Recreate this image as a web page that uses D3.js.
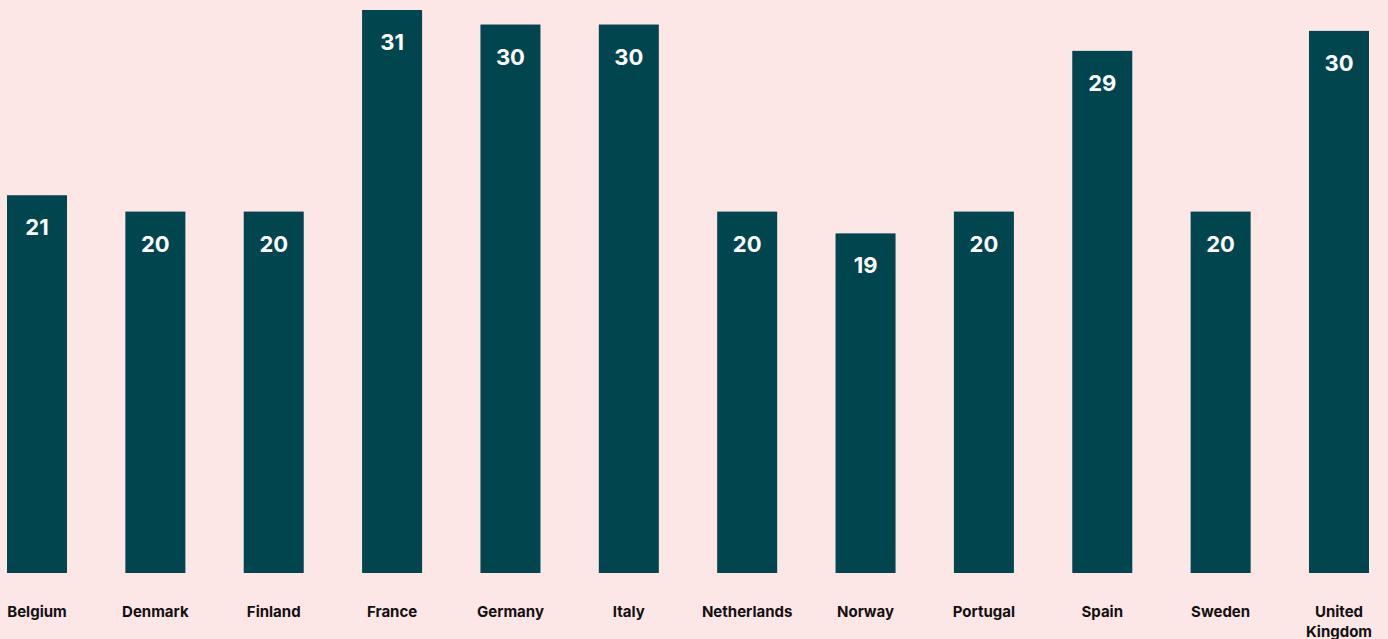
<!DOCTYPE html>
<html>
<head>
<meta charset="utf-8">
<script src="https://cdn.jsdelivr.net/npm/d3@7"></script>
<style>
  html, body { margin: 0; padding: 0; background: #fde6e6; }
  svg { display: block; }
</style>
</head>
<body>
<div id="graph"></div>
<script>
    var w = 1388;
    var h = 639;
    var baseY = 573;

    // values (labels show them rounded)
    var countries = ["Belgium", "Denmark", "Finland", "France", "Germany", "Italy",
                     "Netherlands", "Norway", "Portugal", "Spain", "Sweden", "United Kingdom"];
    var values = [20.8, 19.9, 19.9, 31.0, 30.2, 30.2, 19.9, 18.7, 19.9, 28.75, 19.9, 29.85];

    var barColor = "#01454f";

    var svg = d3.select("#graph").append("svg")
        .attr("width", w)
        .attr("height", h);

    var x = d3.scaleBand()
        .domain(countries)
        .range([7, 1369])
        .paddingInner(0.493)
        .paddingOuter(0);

    var y = d3.scaleLinear()
        .domain([0, 31.0])
        .range([baseY, 10]);

    var data = countries.map(function(c, i) { return {name: c, value: values[i]}; });

    svg.selectAll("rect.bar")
        .data(data)
        .enter()
        .append("rect")
        .attr("class", "bar")
        .attr("x", function(d) { return x(d.name); })
        .attr("y", function(d) { return y(d.value); })
        .attr("width", x.bandwidth())
        .attr("height", function(d) { return baseY - y(d.value); })
        .style("fill", barColor);

    // value labels inside the top of each bar
    svg.selectAll("text.val")
        .data(data)
        .enter()
        .append("text")
        .attr("class", "val")
        .attr("x", function(d) { return x(d.name) + x.bandwidth() / 2; })
        .attr("y", function(d) { return y(d.value) + 40; })
        .attr("text-anchor", "middle")
        .style("font-family", "Inter, 'Open Sans', sans-serif")
        .style("font-weight", "700")
        .style("font-size", "22px")
        .style("fill", "#ffffff")
        .text(function(d) { return Math.round(d.value); });

    // category labels, wrapped on spaces when too wide
    var labels = svg.selectAll("text.cat")
        .data(data)
        .enter()
        .append("text")
        .attr("class", "cat")
        .attr("text-anchor", "middle")
        .style("font-family", "Inter, 'Open Sans', sans-serif")
        .style("font-weight", "700")
        .style("font-size", "15px")
        .style("fill", "#111111");

    labels.each(function(d) {
        var t = d3.select(this);
        var cx = x(d.name) + x.bandwidth() / 2;
        var words = d.name.length > 12 ? d.name.split(" ") : [d.name];
        words.forEach(function(word, i) {
            t.append("tspan")
                .attr("x", cx)
                .attr("y", 617 + i * 20)
                .text(word);
        });
    });
</script>
</body>
</html>
